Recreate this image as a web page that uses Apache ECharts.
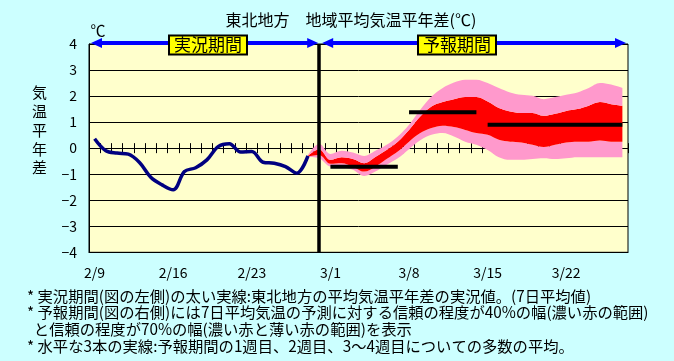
<!DOCTYPE html>
<html><head><meta charset="utf-8">
<script src="https://cdn.jsdelivr.net/npm/echarts@6/dist/echarts.min.js"></script>
<style>html,body{margin:0;padding:0;background:#CCFFFF;} #c{width:674px;height:361px;}</style>
</head><body><div id="c"></div>
<script>
// ---- data ----
const dates = ['2/9','2/10','2/11','2/12','2/13','2/14','2/15','2/16','2/17','2/18','2/19','2/20','2/21','2/22','2/23','2/24','2/25','2/26','2/27','2/28','2/29',
  '3/1','3/2','3/3','3/4','3/5','3/6','3/7','3/8','3/9','3/10','3/11','3/12','3/13','3/14','3/15','3/16','3/17','3/18','3/19','3/20','3/21','3/22','3/23','3/24','3/25','3/26','3/27'];
// observed 7-day mean anomaly, 2/9 .. 2/28
const observed = [0.36,-0.10,-0.19,-0.23,-0.55,-1.12,-1.41,-1.60,-0.90,-0.75,-0.45,0.06,0.17,-0.15,-0.13,-0.54,-0.58,-0.71,-0.96,-0.30];
// forecast band, 2/28 .. 3/27
const bandFrom = '2/28';
const pinkHigh = [-0.26,0.17,-0.22,-0.10,-0.17,-0.30,-0.10,0.13,0.45,0.90,1.47,1.98,2.31,2.52,2.63,2.63,2.50,2.31,2.14,2.05,2.01,1.88,1.96,2.05,2.14,2.31,2.50,2.44,2.31];
const redHigh  = [-0.29,-0.04,-0.45,-0.35,-0.42,-0.58,-0.34,-0.07,0.25,0.70,1.22,1.60,1.77,1.88,1.96,1.96,1.79,1.54,1.41,1.35,1.35,1.24,1.32,1.43,1.50,1.63,1.77,1.69,1.63];
const redLow   = [-0.31,-0.26,-0.60,-0.58,-0.71,-0.90,-0.71,-0.42,-0.13,0.25,0.58,0.77,0.86,0.81,0.70,0.58,0.51,0.32,0.25,0.22,0.13,0.04,0.13,0.22,0.25,0.25,0.29,0.25,0.25];
const pinkLow  = [-0.34,-0.39,-0.71,-0.73,-0.83,-1.07,-0.90,-0.64,-0.39,-0.04,0.30,0.51,0.58,0.45,0.25,0.13,-0.07,-0.35,-0.45,-0.45,-0.42,-0.39,-0.42,-0.39,-0.35,-0.35,-0.35,-0.35,-0.35];
// weekly means of forecast (week1, week2, weeks3-4)
const meanValues = [-0.71, 1.38, 0.90];
const meanFrom   = ['3/1','3/8','3/15'];
const meanTo     = ['3/7','3/14','3/27'];
const splitDate = '2/29';
const yTicks = [-4,-3,-2,-1,0,1,2,3,4];

// ---- build ----
const idx = d => dates.indexOf(d);
const pad = (arr, startDate) => { const s = idx(startDate); return dates.map((d,i)=> (i>=s && i-s<arr.length) ? arr[i-s] : '-'); };
const obs = pad(observed, '2/9');
const pL = pad(pinkLow, bandFrom), rL = pad(redLow, bandFrom), rH = pad(redHigh, bandFrom), pH = pad(pinkHigh, bandFrom);
const diff = (a,b) => a.map((v,i)=> v==='-' ? '-' : +(v-b[i]).toFixed(3));
const SM = 0.35;
const bandSeries = (data, color) => ({
  type:'line', data, stack:'band', stackStrategy:'all', smooth:SM, symbol:'none', silent:true,
  lineStyle:{opacity:0}, areaStyle: color ? {color, opacity:1} : undefined, z:2
});
const meanSeries = meanValues.map((m,k)=>({
  type:'line', symbol:'none', silent:true, z:5,
  lineStyle:{color:'#000', width:4, cap:'butt'},
  data: dates.map((d,i)=> (i>=idx(meanFrom[k]) && i<=idx(meanTo[k])) ? m : '-')
}));
meanSeries[2].markLine = {
  silent:true, symbol:'none', label:{show:false},
  lineStyle:{color:'#000', width:3.5, type:'solid'},
  data:[{xAxis: splitDate}]
};

const FONT = '"Noto Sans CJK JP", sans-serif';
const chart = echarts.init(document.getElementById('c'));
const option = {
  backgroundColor:'#CCFFFF',
  animation:false,
  textStyle:{fontFamily:FONT},
  grid:{left:89, right:46, top:44, bottom:108.7, show:true, backgroundColor:'#FFFFCC', borderColor:'#000', borderWidth:1},
  xAxis:[
    {type:'category', data:dates, boundaryGap:true, position:'bottom',
     axisLine:{onZero:false, lineStyle:{color:'#000', width:1}},
     axisTick:{interval:6, length:5, lineStyle:{color:'#000'}},
     axisLabel:{interval:6, color:'#000', fontSize:14, margin:13, fontFamily:FONT},
     splitLine:{show:false}},
    {type:'category', data:dates, boundaryGap:true, position:'bottom',
     axisLine:{show:false, onZero:true, onZeroAxisIndex:0},
     axisTick:{show:true, interval:0, length:5, lineStyle:{color:'#000'}},
     axisLabel:{show:false}, splitLine:{show:false}},
    {type:'category', data:dates, boundaryGap:true, position:'top',
     axisLine:{show:false, onZero:true, onZeroAxisIndex:0},
     axisTick:{show:true, interval:0, length:5, lineStyle:{color:'#000'}},
     axisLabel:{show:false}, splitLine:{show:false}}
  ],
  yAxis:{type:'value', min:yTicks[0], max:yTicks[yTicks.length-1], interval:1,
    axisLine:{show:true, lineStyle:{color:'#000'}}, axisTick:{show:false},
    axisLabel:{color:'#000', fontSize:14, margin:12, fontFamily:FONT, formatter:v=>String(v).replace('-','\u2212')},
    splitLine:{lineStyle:{color:'#000', width:1}}},
  series:[
    bandSeries(pL, null),
    bandSeries(diff(rL,pL), '#FF99CC'),
    bandSeries(diff(rH,rL), '#FF0000'),
    bandSeries(diff(pH,rH), '#FF99CC'),
    {type:'line', data:obs, smooth:SM, symbol:'none', silent:true, z:4, lineStyle:{color:'#000080', width:3.5}},
    ...meanSeries
  ]
};
chart.setOption(option);

// ---- decorations ----
const px = (i,v) => chart.convertToPixel({xAxisIndex:0, yAxisIndex:0}, [i, v]);
const bw = px(1,0)[0] - px(0,0)[0];
const xL = px(0,4)[0] - bw/2 + 2;
const xR = px(dates.length-1,4)[0] + bw/2 - 2;
const xM = px(idx(splitDate),4)[0] + 1;
const yA = px(0,4)[1] - 1;
const blue = '#0000FF';
function arrow(x1, x2){
  const h = 11, w = 5;
  return [
    {type:'line', z:100, shape:{x1:x1+h-2, y1:yA, x2:x2-h+2, y2:yA}, style:{stroke:blue, lineWidth:4}},
    {type:'polygon', z:100, shape:{points:[[x1,yA],[x1+h,yA-w],[x1+h,yA+w]]}, style:{fill:blue}},
    {type:'polygon', z:100, shape:{points:[[x2,yA],[x2-h,yA-w],[x2-h,yA+w]]}, style:{fill:blue}}
  ];
}
const boxStyle = (t) => ({text:t, font:'17px '+FONT, fill:'#000', backgroundColor:'#FFFF00', borderColor:'#000', borderWidth:2, padding:[0,4,0,4], align:'center', verticalAlign:'middle'});
chart.setOption({graphic:[
  ...arrow(xL, xM-2), ...arrow(xM+2, xR),
  {type:'text', z:101, x:208, y:yA+2, style:boxStyle('実況期間')},
  {type:'text', z:101, x:457, y:yA+2, style:boxStyle('予報期間')},
  {type:'text', x:351, y:20, style:{text:'東北地方　地域平均気温平年差(℃)', font:'16px '+FONT, fill:'#000', align:'center', verticalAlign:'middle'}},
  {type:'text', x:98, y:30, style:{text:'℃', font:'15px '+FONT, fill:'#000', align:'center', verticalAlign:'middle'}},
  {type:'text', x:39.5, y:83, style:{text:'気\n温\n平\n年\n差', font:'15px '+FONT, fill:'#000', align:'center', verticalAlign:'top', lineHeight:18.8}},
  {type:'text', x:27, y:287.5, style:{text:'* 実況期間(図の左側)の太い実線:東北地方の平均気温平年差の実況値。(7日平均値)\n* 予報期間(図の右側)には7日平均気温の予測に対する信頼の程度が40%の幅(濃い赤の範囲)\n  と信頼の程度が70%の幅(濃い赤と薄い赤の範囲)を表示\n* 水平な3本の実線:予報期間の1週目、2週目、3～4週目についての多数の平均。', font:'15.3px '+FONT, fill:'#000', lineHeight:16.7, verticalAlign:'top'}}
]});
</script></body></html>
